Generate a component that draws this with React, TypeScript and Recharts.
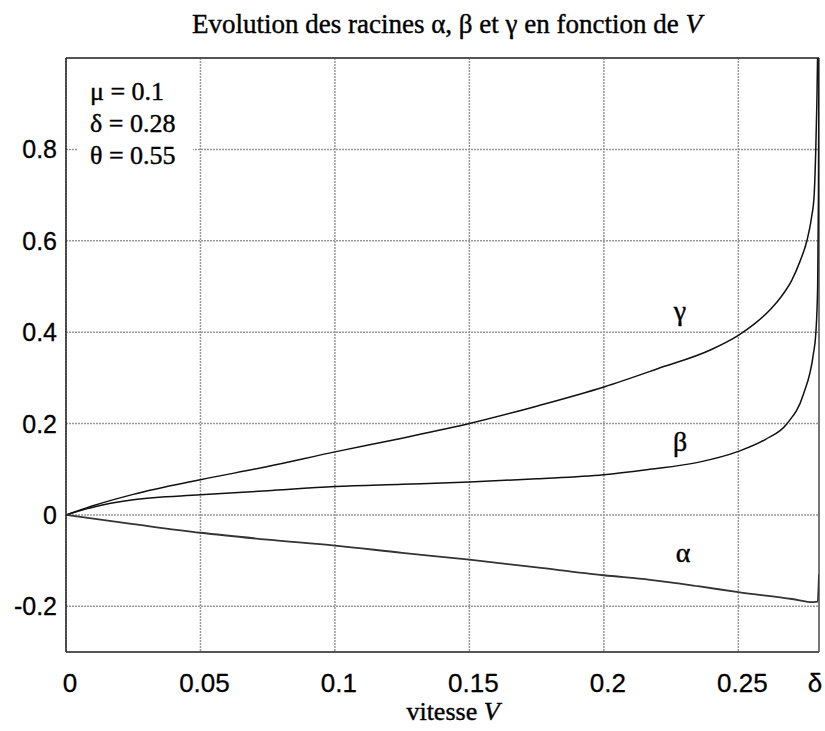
import React from 'react';
import {
  LineChart,
  Line,
  XAxis,
  YAxis,
  CartesianGrid,
  ReferenceLine,
} from 'recharts';

// tick values
const xTicks = [0, 0.05, 0.1, 0.15, 0.2, 0.25, 0.28];
const yTicks = [-0.2, 0, 0.2, 0.4, 0.6, 0.8];

// gamma root (upper branch, blows up near V = delta)
const gammaV = [0, 0.01, 0.025, 0.05, 0.075, 0.1, 0.125, 0.15, 0.175, 0.2, 0.22, 0.24, 0.25, 0.256, 0.262, 0.266, 0.27, 0.273, 0.2755, 0.2772, 0.2782, 0.2788, 0.2792, 0.2796];
const gammaY = [0, 0.02, 0.045, 0.077, 0.106, 0.138, 0.168, 0.2, 0.238, 0.28, 0.32, 0.362, 0.393, 0.418, 0.45, 0.478, 0.515, 0.556, 0.6, 0.65, 0.7, 0.8, 0.9, 1.05];

// beta root
const betaV = [0, 0.01, 0.025, 0.05, 0.075, 0.1, 0.125, 0.15, 0.175, 0.2, 0.217, 0.235, 0.25, 0.26, 0.268, 0.2742, 0.2779, 0.2788, 0.2795, 0.2798, 0.28];
const betaY = [0, 0.017, 0.033, 0.044, 0.053, 0.062, 0.067, 0.072, 0.079, 0.088, 0.1, 0.115, 0.139, 0.165, 0.199, 0.264, 0.352, 0.396, 0.5, 0.7, 1.05];

// alpha root (negative)
const alphaV = [0, 0.025, 0.05, 0.075, 0.1, 0.125, 0.15, 0.175, 0.2, 0.2172, 0.235, 0.25, 0.27, 0.2779, 0.2795, 0.28];
const alphaY = [0, -0.02, -0.039, -0.054, -0.067, -0.083, -0.098, -0.115, -0.132, -0.142, -0.156, -0.169, -0.184, -0.191, -0.19, -0.13];

const toData = (xs: number[], ys: number[]) => xs.map((v, i) => ({ v, y: ys[i] }));
const gammaData = toData(gammaV, gammaY);
const betaData = toData(betaV, betaY);
const alphaData = toData(alphaV, alphaY);

const XTick = ({ x, y, payload }: any) => (
  <text x={x + 4} y={y + 40} textAnchor="middle" fontFamily="Liberation Sans" fontSize={26} fill="#000" stroke="#000" strokeWidth={0.3}>
    {payload.value === 0.28 ? 'δ' : String(payload.value)}
  </text>
);

const YTick = ({ y, payload }: any) => (
  <text x={57} y={y + 9} textAnchor="end" fontFamily="Liberation Sans" fontSize={25} fill="#000" stroke="#000" strokeWidth={0.3}>
    {String(payload.value)}
  </text>
);

const serif = 'Liberation Serif';
const heavy = { fill: '#000', stroke: '#000', strokeWidth: 0.4 };

export default function App() {
  return (
    <div style={{ position: 'relative', width: 825, height: 731, background: '#fff' }}>
      <style>{'body{margin:0}'}</style>
      <LineChart width={825} height={731} data={gammaData} margin={{ top: 58, right: 6, bottom: 0, left: 0 }}>
        <CartesianGrid stroke="#999" strokeWidth={1.5} strokeDasharray="2 1" />
        <XAxis
          dataKey="v"
          type="number"
          domain={[0, 0.28]}
          ticks={xTicks}
          height={79}
          tickSize={0}
          tickMargin={0}
          tick={<XTick />}
          axisLine={{ stroke: '#555', strokeWidth: 2 }}
          tickLine={false}
          allowDataOverflow
        />
        <YAxis
          type="number"
          domain={[-0.3, 1]}
          ticks={yTicks}
          width={66}
          tickSize={0}
          tickMargin={0}
          tick={<YTick />}
          axisLine={{ stroke: '#222', strokeWidth: 1.5 }}
          tickLine={false}
          allowDataOverflow
        />
        <ReferenceLine y={1} stroke="#555" strokeWidth={2} />
        <ReferenceLine x={0.28} stroke="#777" strokeWidth={2} />
        <Line data={gammaData} dataKey="y" type="monotone" stroke="#111" strokeWidth={1.5} dot={false} isAnimationActive={false} />
        <Line data={betaData} dataKey="y" type="monotone" stroke="#111" strokeWidth={1.5} dot={false} isAnimationActive={false} />
        <Line data={alphaData} dataKey="y" type="monotone" stroke="#333" strokeWidth={1.8} dot={false} isAnimationActive={false} />
      </LineChart>
      <svg width={825} height={731} style={{ position: 'absolute', left: 0, top: 0, pointerEvents: 'none' }}>
        <text x={447} y={33} textAnchor="middle" fontFamily={serif} fontSize={27} {...heavy}>
          Evolution des racines α, β et γ en fonction de <tspan fontStyle="italic">V</tspan>
        </text>
        <text x={453} y={720} textAnchor="middle" fontFamily={serif} fontSize={26} {...heavy}>
          vitesse <tspan fontStyle="italic">V</tspan>
        </text>
        <rect x={78} y={70} width={115} height={100} fill="#fff" />
        <text x={90} y={100} fontFamily={serif} fontSize={26} {...heavy}>μ = 0.1</text>
        <text x={90} y={131.5} fontFamily={serif} fontSize={26} {...heavy}>δ = 0.28</text>
        <text x={90} y={163.5} fontFamily={serif} fontSize={26} {...heavy}>θ = 0.55</text>
        <text x={680} y={320} textAnchor="middle" fontFamily={serif} fontSize={28} {...heavy}>γ</text>
        <text x={680} y={451} textAnchor="middle" fontFamily={serif} fontSize={28} {...heavy}>β</text>
        <text x={683} y={562} textAnchor="middle" fontFamily={serif} fontSize={28} {...heavy}>α</text>
      </svg>
    </div>
  );
}
